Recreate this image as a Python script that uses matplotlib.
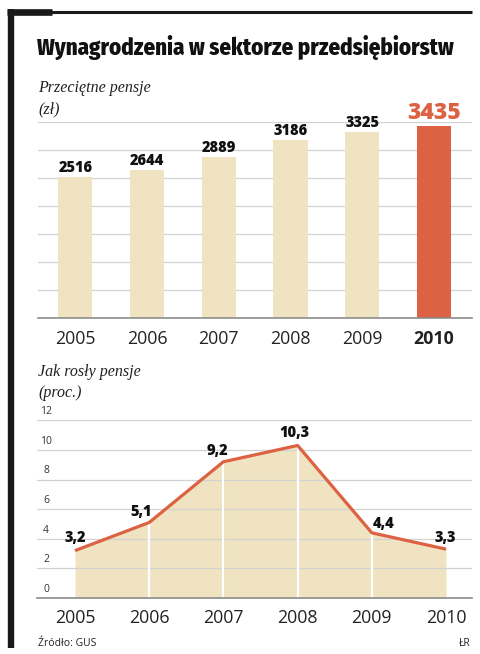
import matplotlib
matplotlib.use("Agg")
import matplotlib.pyplot as plt
from matplotlib.lines import Line2D
import numpy as np

# data
years = ["2005", "2006", "2007", "2008", "2009", "2010"]
pensje = [2516, 2644, 2889, 3186, 3325, 3435]
wzrost = [3.2, 5.1, 9.2, 10.3, 4.4, 3.3]
wzrost_labels = ["3,2", "5,1", "9,2", "10,3", "4,4", "3,3"]

BEIGE = "#efe3c1"
RED = "#dc6243"
GRID = "#d2d2d2"
BASE = "#8c8c8c"
SANS = ["Open Sans", "DejaVu Sans"]
SERIF = ["Liberation Serif", "DejaVu Serif"]
COND = ["Fira Sans Condensed", "Barlow Condensed", "DejaVu Sans"]

W, H = 481, 654
fig = plt.figure(figsize=(W / 100, H / 100), dpi=100)


def px(x, y):
    # pixel coords (from top-left) -> figure fraction
    return x / W, 1 - y / H


# frame
fig.add_artist(Line2D([11 / W, 11 / W], [px(0, 9)[1], px(0, 648)[1]],
                      color="#1a1a1a", lw=4.6, solid_capstyle="butt"))
fig.add_artist(Line2D([px(7, 0)[0], px(52, 0)[0]], [px(0, 11.7)[1]] * 2,
                      color="#1a1a1a", lw=4.8, solid_capstyle="butt"))
fig.add_artist(Line2D([px(50, 0)[0], px(472, 0)[0]], [px(0, 12)[1]] * 2,
                      color="#1a1a1a", lw=2.2, solid_capstyle="butt"))

# title
fig.text(*px(37, 55.5), "Wynagrodzenia w sektorze przedsiębiorstw",
         family=COND, fontweight=800, fontsize=16.4,
         va="baseline", ha="left", color="#111111")

fig.text(*px(38, 88), "Przeciętne pensje", family=SERIF, style="italic",
         fontsize=11.5, va="center", color="#222222")
fig.text(*px(38, 109), "(zł)", family=SERIF, style="italic",
         fontsize=11.5, va="center", color="#222222")

# top chart: bars
l, b = px(38, 318.3)
r, t = px(472, 122.3)
ax1 = fig.add_axes([l, b, r - l, t - b])
x = np.arange(len(years))
colors = [BEIGE] * (len(years) - 1) + [RED]
ax1.bar(x, pensje, width=0.475, color=colors, zorder=2)
ax1.set_xlim(-0.52, 5.53)
ax1.set_ylim(0, 3500)
ax1.set_yticks(np.arange(0, 3501, 500))
ax1.yaxis.grid(True, color=GRID, lw=0.9, zorder=0)
ax1.set_axisbelow(True)
ax1.tick_params(left=False, bottom=False, labelleft=False)
for s in ["left", "right", "top"]:
    ax1.spines[s].set_visible(False)
ax1.spines["bottom"].set_color(BASE)
ax1.spines["bottom"].set_linewidth(1.2)
ax1.set_xticks(x)
ax1.set_xticklabels(years, family=SANS, fontsize=12.8, color="#222222")
ax1.get_xticklabels()[-1].set_fontweight("bold")
ax1.tick_params(axis="x", pad=5)
for i, v in enumerate(pensje):
    if i == len(pensje) - 1:
        ax1.annotate(str(v), (i, v), xytext=(0, 5.3), textcoords="offset points",
                     ha="center", va="baseline", family=SANS, fontweight=800,
                     fontsize=16.5, color=RED, annotation_clip=False)
    else:
        ax1.annotate(str(v), (i, v), xytext=(0, 3.6), textcoords="offset points",
                     ha="center", va="baseline", family=SANS, fontweight=800,
                     fontsize=10.5, color="#111111", annotation_clip=False)

# bottom chart
fig.text(*px(38, 372), "Jak rosły pensje", family=SERIF, style="italic",
         fontsize=11.5, va="center", color="#222222")
fig.text(*px(38, 393), "(proc.)", family=SERIF, style="italic",
         fontsize=11.5, va="center", color="#222222")

l, b = px(37, 598)
r, t = px(472, 420.3)
ax2 = fig.add_axes([l, b, r - l, t - b])
ax2.fill_between(x, wzrost, 0, color=BEIGE, lw=0, zorder=1)
ax2.vlines(x[1:-1], 0, wzrost[1:-1], color="white", lw=1.6, zorder=2)
ax2.plot(x, wzrost, color=RED, lw=2.3, zorder=4, solid_capstyle="butt")
ax2.set_xlim(-0.512, 5.35)
ax2.set_ylim(0, 12)
yt = np.arange(0, 13, 2)
ax2.set_yticks(yt)
ax2.yaxis.grid(True, color=GRID, lw=0.9, zorder=3)
ax2.tick_params(left=False, bottom=False, labelleft=False)
for s in ["left", "right", "top"]:
    ax2.spines[s].set_visible(False)
ax2.spines["bottom"].set_color(BASE)
ax2.spines["bottom"].set_linewidth(1.2)
ax2.spines["bottom"].set_zorder(5)
ax2.set_xticks(x)
ax2.set_xticklabels(years, family=SANS, fontsize=12.8, color="#222222")
ax2.tick_params(axis="x", pad=4.5)
for v in yt:
    ax2.annotate(str(v), (0, v), xycoords=("axes fraction", "data"),
                 xytext=(6.5, 2.2), textcoords="offset points", ha="center",
                 va="bottom", family=SANS, fontsize=7.5, color="#333333")

offsets = [(0, 6.5), (-5.5, 4.7), (-4.3, 4.8), (-2, 5.8), (8.4, 3.8), (-0.7, 5.3)]
for i, (v, lab) in enumerate(zip(wzrost, wzrost_labels)):
    ax2.annotate(lab, (i, v), xytext=offsets[i], textcoords="offset points",
                 ha="center", va="baseline", family=SANS, fontweight=800,
                 fontsize=10.5, color="#111111", zorder=6, annotation_clip=False)

# footer
fig.text(*px(38, 644), "Źródło: GUS", family=SANS, fontsize=7.5,
         va="center", ha="left", color="#222222")
fig.text(*px(471, 644), "ŁR", family=SANS, fontsize=7.5,
         va="center", ha="right", color="#222222")

fig.savefig("out.png", dpi=100, facecolor="white")
